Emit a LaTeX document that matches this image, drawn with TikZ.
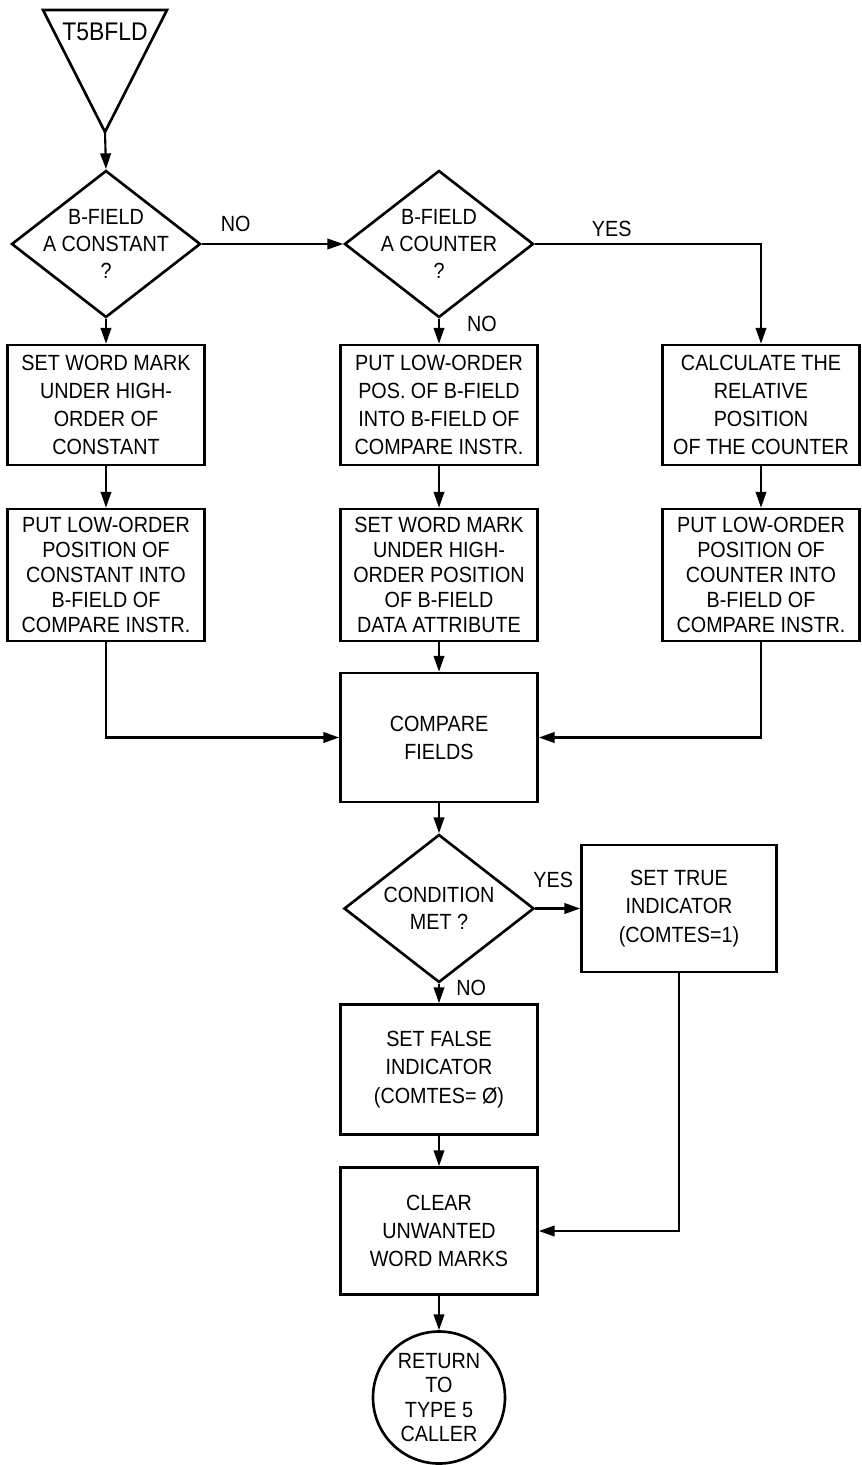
\documentclass[tikz,border=0pt]{standalone}
\usepackage{fontspec}
\setmainfont[FakeStretch=0.9]{Liberation Sans}
\usetikzlibrary{shapes.geometric,arrows.meta}

\begin{document}
\begin{tikzpicture}[node distance=3.2cm, auto,
    block/.style={rectangle, draw, line width=1.5pt, minimum width=3.94cm, minimum height=2.4cm, align=center, inner sep=1pt, font=\fontsize{12.5}{16}\selectfont},
    tall/.style={block, minimum height=2.64cm, font=\fontsize{12.5}{14.2}\selectfont},
    decision/.style={diamond, draw, line width=1.5pt, minimum width=3.78cm, minimum height=2.94cm, inner sep=0pt},
    dtext/.style={align=center, font=\fontsize{12.5}{15.5}\selectfont},
    term/.style={circle, draw, line width=1.5pt, minimum size=2.64cm, inner sep=0pt, align=center, font=\fontsize{12.5}{14}\selectfont},
    line/.style={draw, line width=1.2pt, -{Triangle[length=9pt,width=6pt]}},
    lbl/.style={font=\fontsize{12.5}{14}\selectfont}]

    \useasboundingbox (0,0) rectangle (17.22,-29.3);

    % entry triangle
    \coordinate (tl) at (0.86,-0.2);
    \coordinate (tr) at (3.34,-0.2);
    \coordinate (tip) at (2.1,-2.64);
    \draw[line width=1.5pt] (tl) -- (tr) -- (tip) -- cycle;
    \node[font=\fontsize{14.5}{16}\selectfont] (t5) at (2.1,-0.64) {T5BFLD};

    % decisions on the B-field
    \node [decision] (d1) at (2.12,-4.88) {};
    \node [dtext] (d1t) at (d1) {B-FIELD\\A CONSTANT\\?};
    \node [decision, right of=d1, node distance=6.66cm] (d2) {};
    \node [dtext] (d2t) at (d2) {B-FIELD\\A COUNTER\\?};

    % three columns
    \node [block, below of=d1, node distance=3.22cm] (a1) {SET WORD MARK\\UNDER HIGH-\\ORDER OF\\CONSTANT};
    \node [tall, below of=a1, node distance=3.4cm] (a2) {PUT LOW-ORDER\\POSITION OF\\CONSTANT INTO\\B-FIELD OF\\COMPARE INSTR.};
    \node [block, below of=d2, node distance=3.22cm] (b1) {PUT LOW-ORDER\\POS. OF B-FIELD\\INTO B-FIELD OF\\COMPARE INSTR.};
    \node [tall, below of=b1, node distance=3.4cm] (b2) {SET WORD MARK\\UNDER HIGH-\\ORDER POSITION\\OF B-FIELD\\DATA ATTRIBUTE};
    \node [block, right of=b1, node distance=6.44cm] (c1) {CALCULATE THE\\RELATIVE\\POSITION\\OF THE COUNTER};
    \node [tall, below of=c1, node distance=3.4cm] (c2) {PUT LOW-ORDER\\POSITION OF\\COUNTER INTO\\B-FIELD OF\\COMPARE INSTR.};

    % compare and result
    \node [block, minimum height=2.58cm, below of=b2, node distance=3.25cm] (cmp) {COMPARE\\FIELDS};
    \node [decision, minimum width=3.8cm, minimum height=2.96cm, below of=cmp, node distance=3.42cm] (d3) {};
    \node [dtext] (d3t) at (d3) {CONDITION\\MET ?};
    \node [block, minimum width=3.9cm, minimum height=2.54cm, right of=d3, node distance=4.8cm] (tru) {SET TRUE\\INDICATOR\\(COMTES=1)};
    \node [block, minimum height=2.6cm, below of=d3, node distance=3.22cm] (fal) {SET FALSE\\INDICATOR\\(COMTES= Ø)};
    \node [block, minimum height=2.54cm, below of=fal, node distance=3.23cm] (clr) {CLEAR\\UNWANTED\\WORD MARKS};
    \node [term, below of=clr, node distance=3.33cm] (ret) {RETURN\\TO\\TYPE 5\\CALLER};

    \path [line] (tip) -- (d1.north);
    \path [line] (d1.east) -- node[lbl, above=3pt, pos=0.24] {NO} (d2.west);
    \path [line] (d2.east) -| node[lbl, above, pos=0.17] {YES} (c1.north);
    \path [line] (d1.south) -- (a1.north);
    \path [line] (a1.south) -- (a2.north);
    \path [line] (d2.south) -- node[lbl, right=12pt, pos=0.2] {NO} (b1.north);
    \path [line] (b1.south) -- (b2.north);
    \path [line] (c1.south) -- (c2.north);
    \path [line] (a2.south) |- (cmp.west);
    \path [line] (c2.south) |- (cmp.east);
    \path [line] (b2.south) -- (cmp.north);
    \path [line] (cmp.south) -- (d3.north);
    \path [line] (d3.east) -- node[lbl, above=8pt, pos=0.4] {YES} (tru.west);
    \path [line] (d3.south) -- node[lbl, right=6pt, pos=0.2] {NO} (fal.north);
    \path [line] (tru.south) |- (clr.east);
    \path [line] (fal.south) -- (clr.north);
    \path [line] (clr.south) -- (ret.north);
\end{tikzpicture}
\end{document}
